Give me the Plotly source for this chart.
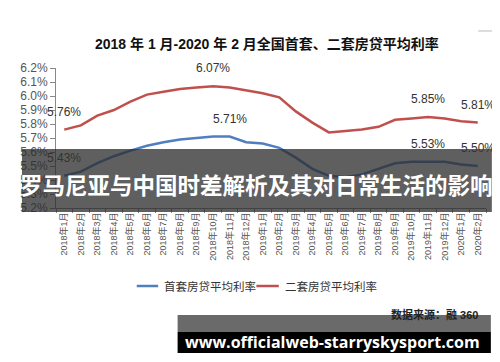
import plotly.graph_objects as go

categories = ["2018年1月", "2018年2月", "2018年3月", "2018年4月", "2018年5月", "2018年6月",
              "2018年7月", "2018年8月", "2018年9月", "2018年10月", "2018年11月", "2018年12月",
              "2019年1月", "2019年2月", "2019年3月", "2019年4月", "2019年5月", "2019年6月",
              "2019年7月", "2019年8月", "2019年9月", "2019年10月", "2019年11月", "2019年12月",
              "2020年1月", "2020年2月"]
first_home = [5.43, 5.46, 5.52, 5.57, 5.61, 5.645, 5.67, 5.69, 5.70, 5.71, 5.71, 5.67,
              5.66, 5.63, 5.56, 5.48, 5.43, 5.42, 5.44, 5.48, 5.52, 5.53, 5.53, 5.53,
              5.51, 5.50]
second_home = [5.76, 5.79, 5.86, 5.90, 5.96, 6.01, 6.03, 6.05, 6.06, 6.07, 6.06, 6.04,
               6.02, 5.99, 5.89, 5.81, 5.74, 5.75, 5.76, 5.78, 5.83, 5.84, 5.85, 5.84,
               5.82, 5.81]
series_names = ["首套房贷平均利率", "二套房贷平均利率"]
y_ticks = [5.2, 5.3, 5.4, 5.5, 5.6, 5.7, 5.8, 5.9, 6.0, 6.1, 6.2]
labelled_first = [0, 10, 22, 25]
labelled_second = [0, 9, 22, 25]

title = "2018 年 1 月-2020 年 2 月全国首套、二套房贷平均利率"
banner = "罗马尼亚与中国时差解析及其对日常生活的影响"
source = "数据来源：融 360"
site = "www.officialweb-starryskysport.com"

# the page body has an 8px default margin, so the figure is offset by 8px
OFF = 8
W, H = 500 - OFF, 362 - OFF
L, R, T, B = 44 - OFF, 14, 68 - OFF, 154
PW, PH = W - L - R, H - T - B


def px(x):
    return (x - OFF - L) / PW


def py(y):
    return (H - B - (y - OFF)) / PH


CJK = "Liberation Sans, Noto Sans CJK SC, sans-serif"
BLUE = "#4F7FBF"
RED = "#C0504D"
COLORS = [BLUE, RED]

fig = go.Figure()
fig.add_trace(go.Scatter(x=categories, y=first_home, mode="lines", name=series_names[0],
                         line=dict(color=BLUE, width=2.5)))
fig.add_trace(go.Scatter(x=categories, y=second_home, mode="lines", name=series_names[1],
                         line=dict(color=RED, width=2.5)))

annotations = []
for i in labelled_first:
    annotations.append(dict(x=categories[i], y=first_home[i], xref="x", yref="y",
                            text=f"{first_home[i]:.2f}%", showarrow=False, yshift=18,
                            xanchor="center", yanchor="middle",
                            font=dict(size=12, color="#333", family=CJK)))
for i in labelled_second:
    annotations.append(dict(x=categories[i], y=second_home[i], xref="x", yref="y",
                            text=f"{second_home[i]:.2f}%", showarrow=False, yshift=18,
                            xanchor="center", yanchor="middle",
                            font=dict(size=12, color="#333", family=CJK)))


def paper_text(x, y, text, font, xanchor="center"):
    annotations.append(dict(x=px(x), y=py(y), xref="paper", yref="paper", text=text,
                            showarrow=False, xanchor=xanchor, yanchor="middle", font=font))


paper_text(261, 44, f"<b>{title}</b>", dict(size=14, color="#111", family=CJK))
paper_text(250, 184, f"<b>{banner}</b>", dict(size=22.5, color="white", family="Noto Sans CJK SC"))
paper_text(480, 314, f"<b>{source}</b>", dict(size=11, color="#222", family=CJK), xanchor="right")
paper_text(328, 342, f"<b>{site}</b>", dict(size=16, color="white", family="Open Sans"))

# manual legend
legend_items = [(127, 149, 153), (250, 273, 277)]
shapes = []
for (x0, x1, tx), name, col in zip(legend_items, series_names, COLORS):
    shapes.append(dict(type="line", xref="paper", yref="paper", x0=px(x0), x1=px(x1),
                       y0=py(286), y1=py(286), line=dict(color=col, width=2.5)))
    paper_text(tx, 286, name, dict(size=11.5, color="#333", family=CJK), xanchor="left")

shapes += [
    dict(type="rect", xref="paper", yref="paper", x0=px(9), x1=px(492), y0=py(212), y1=py(149),
         fillcolor="rgba(45,45,45,0.76)", line=dict(width=0), layer="above"),
    dict(type="rect", xref="paper", yref="paper", x0=px(169), x1=px(491), y0=py(332), y1=py(315),
         fillcolor="#6a6a6a", line=dict(width=0), layer="above"),
    dict(type="rect", xref="paper", yref="paper", x0=px(169), x1=px(491), y0=py(353), y1=py(332),
         fillcolor="#000000", line=dict(width=0), layer="above"),
    dict(type="line", xref="paper", yref="paper", x0=px(478), x1=px(500), y0=py(31), y1=py(31),
         line=dict(color="#bbb", width=1)),
]

fig.update_layout(
    width=W, height=H,
    margin=dict(l=L, r=R, t=T, b=B),
    paper_bgcolor="white", plot_bgcolor="white",
    showlegend=False,
    annotations=annotations,
    shapes=shapes,
    font=dict(family=CJK),
)
fig.update_xaxes(type="category", range=[-0.5, len(categories) - 0.5], showgrid=False,
                 showline=True, linecolor="#888", linewidth=1, ticks="outside", ticklen=4,
                 tickcolor="#888", tickson="boundaries", tickangle=-90,
                 tickfont=dict(size=9, color="#555", family=CJK))
fig.update_yaxes(range=[5.2, 6.2], tickvals=y_ticks,
                 ticktext=[f"{v:.1f}%" for v in y_ticks], showgrid=False,
                 showline=True, linecolor="#888", linewidth=1, ticks="outside", ticklen=5,
                 tickcolor="#888", tickfont=dict(size=12, color="#555", family=CJK))

fig.write_html("out.html")
